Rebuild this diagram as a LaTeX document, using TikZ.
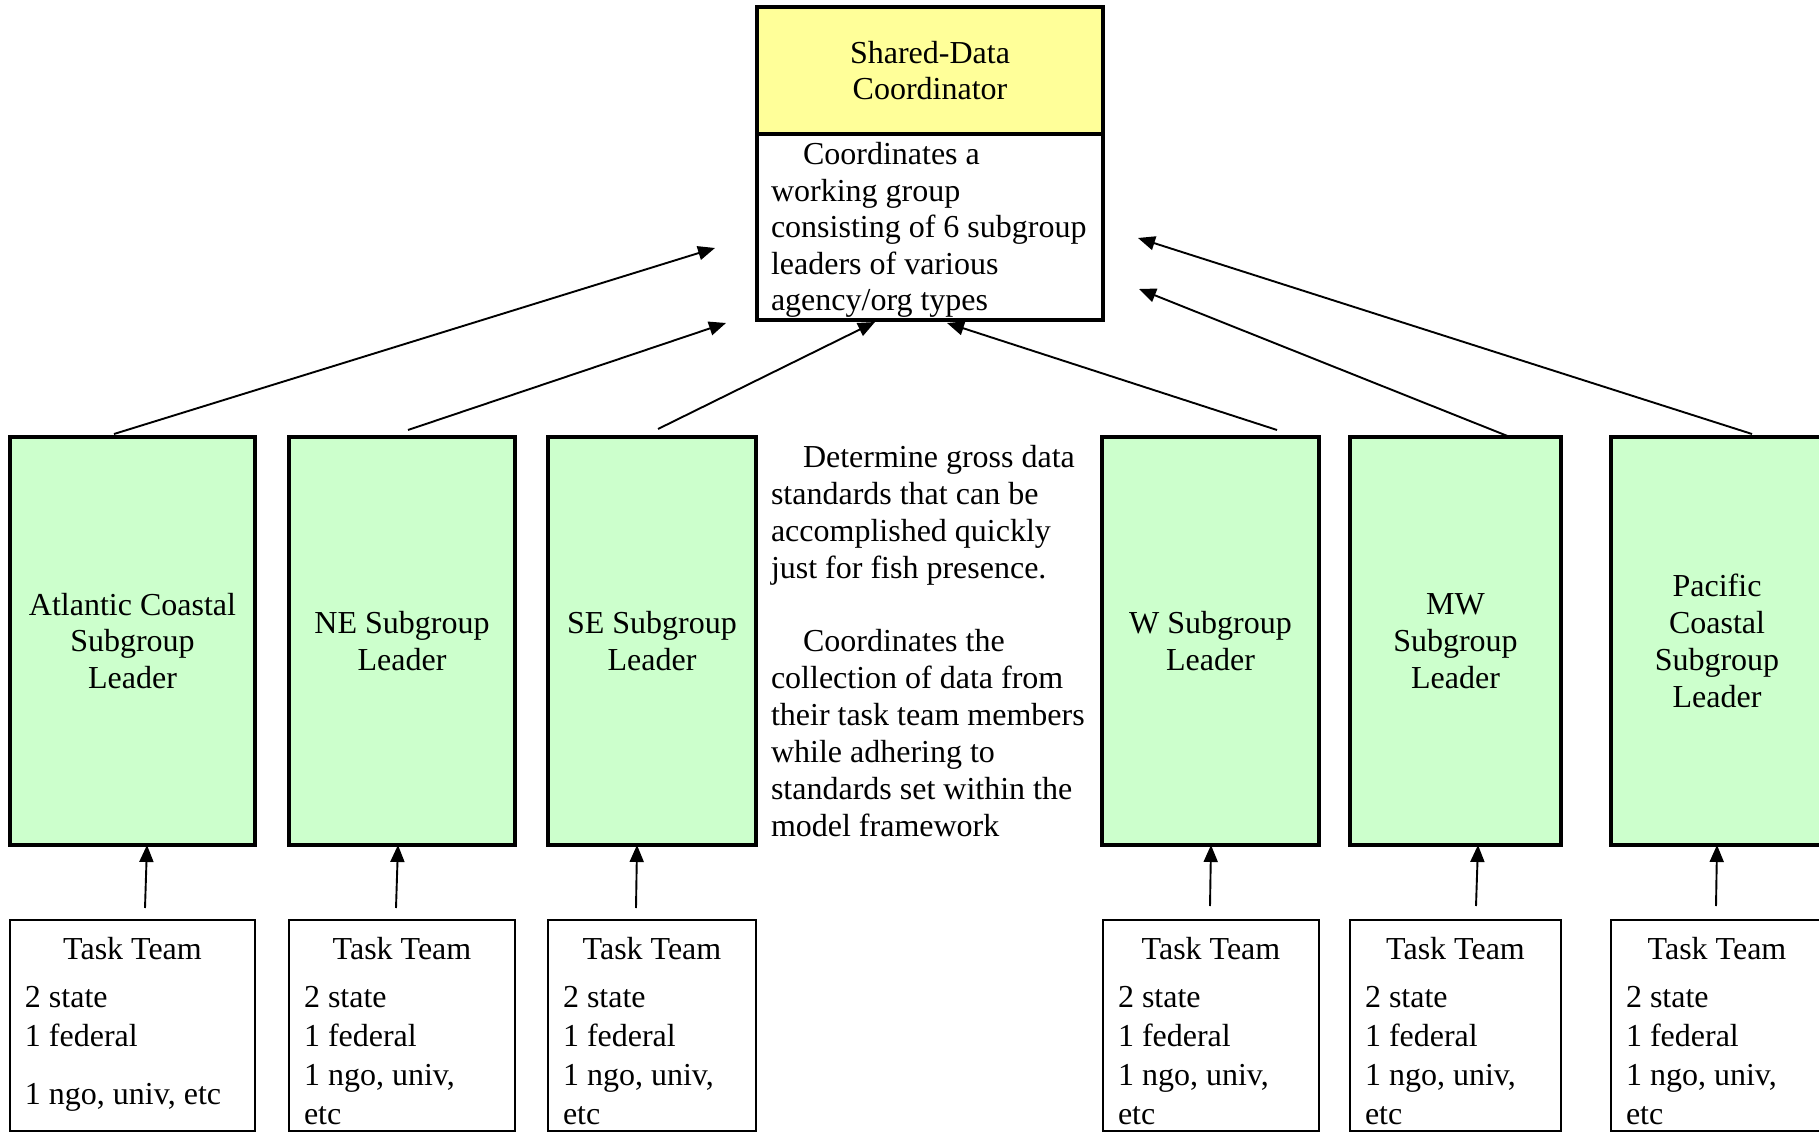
\documentclass[tikz,border=0pt]{standalone}
\usepackage{fontspec}
\setmainfont{Liberation Serif}
\usetikzlibrary{arrows.meta,calc}
\definecolor{yel}{HTML}{FFFF99}
\definecolor{grn}{HTML}{CCFFCC}
\newcommand\myfs{\fontsize{16}{18.4}\selectfont}
\begin{document}
\begin{tikzpicture}[x=0.5pt,y=-0.5pt,
  every node/.style={outer sep=0pt},
  topbox/.style={draw, line width=1.6pt, minimum width=173pt, anchor=north west, inner sep=0pt, align=center, font=\myfs},
  lead/.style={draw, fill=grn, line width=1.6pt, minimum height=204pt, anchor=north west, inner sep=0pt, align=center, font=\myfs},
  task/.style={draw, fill=white, line width=1.2pt, minimum height=105.5pt, anchor=north west, inner sep=0pt},
  ttitle/.style={anchor=base, inner sep=0pt, font=\myfs},
  tbody/.style={anchor=base west, inner sep=0pt},
  arr/.style={line width=0.95pt, -{Triangle[length=8.5pt,width=7pt]}}
]
\useasboundingbox (0,0) rectangle (1819,1133);

% top coordinator box
\node[topbox, fill=yel, minimum height=63.5pt] (sdc) at (757,7) {Shared-Data\\Coordinator};
\node[topbox, fill=white, minimum height=93pt] (wg) at (757,134) {};
\node[tbody] (wgtxt) at ($(wg.north west)+(14,31)$) {\parbox[t]{170pt}{\fontsize{16}{18.2}\selectfont\hspace*{16pt}Coordinates a\\working group\\consisting of 6 subgroup\\leaders of various\\agency/org types}};

% side text
\node[tbody] (side) at (771,468) {\parbox[t]{170pt}{\myfs\hspace*{16pt}Determine gross data\\standards that can be\\accomplished quickly\\just for fish presence.\\[18.4pt]\hspace*{16pt}Coordinates the\\collection of data from\\their task team members\\while adhering to\\standards set within the\\model framework}};

% subgroup leaders
\node[lead, minimum width=122.5pt] (atl) at (10,437) {Atlantic Coastal\\Subgroup\\Leader};
\node[lead, minimum width=113pt] (ne) at (289,437) {NE Subgroup\\Leader};
\node[lead, minimum width=104pt] (se) at (548,437) {SE Subgroup\\Leader};
\node[lead, minimum width=108.5pt] (w) at (1102,437) {W Subgroup\\Leader};
\node[lead, minimum width=105.5pt] (mw) at (1350,437) {MW\\Subgroup\\Leader};
\node[lead, minimum width=106pt] (pac) at (1611,437) {Pacific\\Coastal\\Subgroup\\Leader};

% task teams
\node[task, minimum width=122.5pt] (t1) at (10,920) {};
\node[task, minimum width=113pt] (t2) at (289,920) {};
\node[task, minimum width=104pt] (t3) at (548,920) {};
\node[task, minimum width=108pt] (t4) at (1103,920) {};
\node[task, minimum width=105.5pt] (t5) at (1350,920) {};
\node[task, minimum width=106pt] (t6) at (1611,920) {};

\node[ttitle] at ($(t1.north)+(0,39)$) {Task Team};
\node[tbody] at ($(t1.north west)+(15,87)$) {\parbox[t]{200pt}{\fontsize{16}{19.5}\selectfont 2 state\\1 federal\\[9.5pt]1 ngo, univ, etc}};
\foreach \t in {t2,t3,t4,t5,t6}{
  \node[ttitle] at ($(\t.north)+(0,39)$) {Task Team};
  \node[tbody] at ($(\t.north west)+(15,87)$) {\parbox[t]{200pt}{\fontsize{16}{19.5}\selectfont 2 state\\1 federal\\1 ngo, univ,\\etc}};
}

% arrows task -> leader
\draw[arr] ($(t1.north)+(12.5,-12)$) -- ($(atl.south)+(14.5,0)$);
\draw[arr] ($(t2.north)+(-6,-12)$) -- ($(ne.south)+(-4,0)$);
\draw[arr] ($(t3.north)+(-16,-12)$) -- ($(se.south)+(-15,0)$);
\draw[arr] ($(t4.north)+(-1,-14)$) -- ($(w.south)+(0.5,0)$);
\draw[arr] ($(t5.north)+(20.5,-14)$) -- ($(mw.south)+(22.5,0)$);
\draw[arr] ($(t6.north)+(-1,-14)$) -- ($(pac.south)+(0,0)$);

% arrows leader -> coordinator
\coordinate (pA) at (715,248);
\coordinate (pB) at (726,323);
\coordinate (pC) at (875,322);
\coordinate (pD) at (947,323);
\coordinate (pE) at (1139,289);
\coordinate (pF) at (1138,238);
\draw[arr] ($(atl.north)+(-18.5,-3)$) -- (pA);
\draw[arr] ($(ne.north)+(6,-7)$) -- (pB);
\draw[arr] ($(se.north)+(6,-8)$) -- (pC);
\draw[arr] ($(w.north)+(66.5,-7)$) -- (pD);
\draw[arr] ($(mw.north)+(54.5,0)$) -- (pE);
\draw[arr] ($(pac.north)+(35,-3)$) -- (pF);
\end{tikzpicture}
\end{document}
